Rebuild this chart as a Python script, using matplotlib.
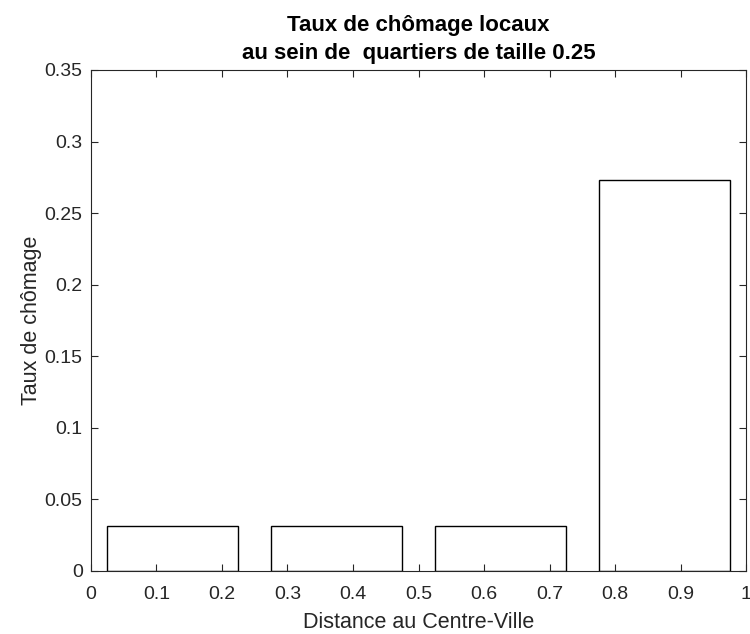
import matplotlib
matplotlib.use("Agg")
import matplotlib.pyplot as plt

centers = [0.125, 0.375, 0.625, 0.875]
rates = [0.03125, 0.03125, 0.03125, 0.2734]
bar_width = 0.2
xticks = [0, 0.1, 0.2, 0.3, 0.4, 0.5, 0.6, 0.7, 0.8, 0.9, 1]
xticklabels = ["0", "0.1", "0.2", "0.3", "0.4", "0.5", "0.6", "0.7", "0.8", "0.9", "1"]
yticks = [0, 0.05, 0.1, 0.15, 0.2, 0.25, 0.3, 0.35]
yticklabels = ["0", "0.05", "0.1", "0.15", "0.2", "0.25", "0.3", "0.35"]

plt.rcParams['font.family'] = ['Liberation Sans', 'DejaVu Sans']
grey = '#262626'

fig = plt.figure(figsize=(7.5, 6.34), dpi=100)
ax = fig.add_axes([0.1213, 0.0994, 0.8734, 0.7902])
ax.bar(centers, rates, width=bar_width, facecolor='white', edgecolor='black', linewidth=1.0)
ax.set_xlim(0, 1)
ax.set_ylim(0, 0.35)
ax.set_xticks(xticks)
ax.set_xticklabels(xticklabels)
ax.set_yticks(yticks)
ax.set_yticklabels(yticklabels)
ax.tick_params(direction='in', top=True, right=True, length=5, width=0.8,
               colors=grey, labelsize=14, labelcolor=grey)
ax.tick_params(axis='x', pad=11)
ax.tick_params(axis='y', pad=6)
for s in ax.spines.values():
    s.set_color(grey)
    s.set_linewidth(0.8)
ax.set_xlabel("Distance au Centre-Ville", fontsize=15.5, color=grey, labelpad=6)
ax.set_ylabel("Taux de chômage", fontsize=15.5, color=grey, labelpad=2)
ax.set_title("Taux de chômage locaux\nau sein de  quartiers de taille 0.25",
             fontsize=16, fontweight='bold', color='black', pad=8, linespacing=1.45)
fig.savefig("out.png", dpi=100)
